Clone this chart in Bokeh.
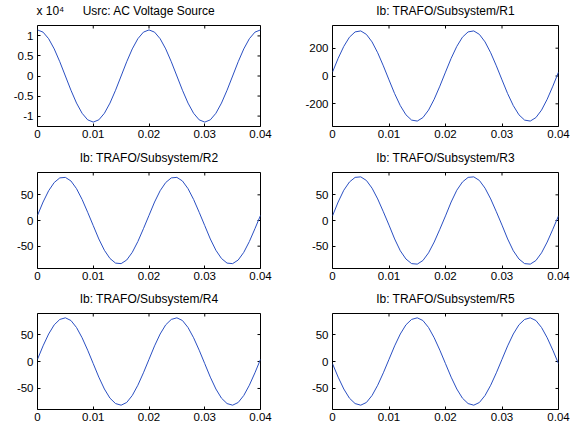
import math
from bokeh.plotting import figure
from bokeh.layouts import column, row
from bokeh.models import Range1d, LinearAxis, FixedTicker
from bokeh.embed import file_html
from bokeh.resources import INLINE

# ---------------- data ----------------
t = [0.000, 0.001, 0.002, 0.003, 0.004, 0.005, 0.006, 0.007, 0.008, 0.009,
     0.010, 0.011, 0.012, 0.013, 0.014, 0.015, 0.016, 0.017, 0.018, 0.019,
     0.020, 0.021, 0.022, 0.023, 0.024, 0.025, 0.026, 0.027, 0.028, 0.029,
     0.030, 0.031, 0.032, 0.033, 0.034, 0.035, 0.036, 0.037, 0.038, 0.039,
     0.040]

usrc = [11500, 10940, 9300, 6760, 3550, 0, -3550, -6760, -9300, -10940,
        -11500, -10940, -9300, -6760, -3550, 0, 3550, 6760, 9300, 10940,
        11500, 10940, 9300, 6760, 3550, 0, -3550, -6760, -9300, -10940,
        -11500, -10940, -9300, -6760, -3550, 0, 3550, 6760, 9300, 10940,
        11500]

ib_r1 = [28, 127, 213, 279, 317, 324, 299, 245, 167, 73,
         -28, -127, -213, -279, -317, -324, -299, -245, -167, -73,
         28, 127, 213, 279, 317, 324, 299, 245, 167, 73,
         -28, -127, -213, -279, -317, -324, -299, -245, -167, -73,
         28]

ib_r2 = [10, 36, 58, 74, 83, 84, 77, 62, 41, 16,
         -10, -36, -58, -74, -83, -84, -77, -62, -41, -16,
         10, 36, 58, 74, 83, 84, 77, 62, 41, 16,
         -10, -36, -58, -74, -83, -84, -77, -62, -41, -16,
         10]

ib_r3 = [9, 36, 59, 75, 84, 85, 78, 63, 42, 17,
         -9, -36, -59, -75, -84, -85, -78, -63, -42, -17,
         9, 36, 59, 75, 84, 85, 78, 63, 42, 17,
         -9, -36, -59, -75, -84, -85, -78, -63, -42, -17,
         9]

ib_r4 = [4, 29, 51, 68, 78, 81, 76, 63, 44, 21,
         -4, -29, -51, -68, -78, -81, -76, -63, -44, -21,
         4, 29, 51, 68, 78, 81, 76, 63, 44, 21,
         -4, -29, -51, -68, -78, -81, -76, -63, -44, -21,
         4]

ib_r5 = [-4, -29, -51, -68, -78, -81, -76, -63, -44, -21,
         4, 29, 51, 68, 78, 81, 76, 63, 44, 21,
         -4, -29, -51, -68, -78, -81, -76, -63, -44, -21,
         4, 29, 51, 68, 78, 81, 76, 63, 44, 21,
         -4]

titles = ["Usrc: AC Voltage Source",
          "Ib: TRAFO/Subsystem/R1",
          "Ib: TRAFO/Subsystem/R2",
          "Ib: TRAFO/Subsystem/R3",
          "Ib: TRAFO/Subsystem/R4",
          "Ib: TRAFO/Subsystem/R5"]

multiplier_text = "x 10\u2074"

x_ticks = [0, 0.01, 0.02, 0.03, 0.04]
x_tick_labels = ["0", "0.01", "0.02", "0.03", "0.04"]

usrc_ticks = [-10000, -5000, 0, 5000, 10000]
usrc_tick_labels = ["-1", "-0.5", "0", "0.5", "1"]
r1_ticks = [-200, 0, 200]
r1_tick_labels = ["-200", "0", "200"]
r_ticks = [-50, 0, 50]
r_tick_labels = ["-50", "0", "50"]

x_limits = (0, 0.04)
y_limits = [(-12600, 12600), (-363, 363), (-93.5, 93.5),
            (-93.5, 93.5), (-89, 89), (-89, 89)]

# ---------------- styling / layout ----------------
FONT = "Liberation Sans"
LINE_COLOR = "#2a4fc2"
TITLE_X = 0.02          # title anchor (centre of the x range)
MULT_X = 0.0023         # anchor of the "x 10^4" text


def make_panel(values, title, xlim, ylim, yticks, ylabels, width, height,
               left, right, top_b, bottom, extra_top=None):
    p = figure(width=width, height=height,
               x_range=Range1d(*xlim), y_range=Range1d(*ylim),
               output_backend="svg", toolbar_location=None, tools="",
               min_border_left=left, min_border_right=right,
               min_border_top=top_b, min_border_bottom=bottom)
    p.background_fill_color = "white"
    p.border_fill_color = "white"
    p.outline_line_color = "black"
    p.outline_line_width = 1
    p.xgrid.visible = False
    p.ygrid.visible = False

    # bottom / left axes (MATLAB style: inward ticks)
    for ax in (p.below[0], p.left[0]):
        ax.axis_line_color = None
        ax.major_tick_in = 3
        ax.major_tick_out = 0
        ax.minor_tick_in = 0
        ax.minor_tick_out = 0
        ax.major_tick_line_color = "black"
        ax.major_label_text_font = FONT
        ax.major_label_text_font_size = "11.5px"
        ax.major_label_text_color = "black"
    bx = p.below[0]
    bx.ticker = FixedTicker(ticks=x_ticks)
    bx.major_label_overrides = {k: v for k, v in zip(x_ticks, x_tick_labels)}
    bx.major_label_standoff = 3
    ly = p.left[0]
    ly.ticker = FixedTicker(ticks=yticks)
    ly.major_label_overrides = {k: v for k, v in zip(yticks, ylabels)}
    ly.major_label_standoff = 4

    # title row above the frame (texts only, no tick marks)
    top_ticks = [TITLE_X]
    top_labels = {TITLE_X: title}
    if extra_top is not None:
        top_ticks = [extra_top[0], TITLE_X]
        top_labels[extra_top[0]] = extra_top[1]
    top = LinearAxis(ticker=FixedTicker(ticks=top_ticks),
                     major_label_overrides=top_labels)
    top.axis_line_color = None
    top.major_tick_line_color = None
    top.minor_tick_line_color = None
    top.major_tick_in = 0
    top.major_tick_out = 0
    top.major_label_standoff = 8
    top.major_label_text_font = FONT
    top.major_label_text_font_size = "12px"
    top.major_label_text_color = "black"
    p.add_layout(top, "above")

    # inward ticks on the top and right edges of the box
    p.scatter(x=x_ticks, y=[ylim[1]] * len(x_ticks), marker="dash", size=6,
              angle=math.pi / 2, line_color="black", line_width=1)
    p.scatter(x=[xlim[1]] * len(yticks), y=yticks, marker="dash", size=6,
              line_color="black", line_width=1)

    p.line(t, values, line_color=LINE_COLOR, line_width=1)
    return p


LW, LL, LR = 274, 37, 14
RW, RL, RR = 297, 58, 13
# figure height, top border, bottom border for each row
rows_geom = [(147, 25, 21), (141, 25, 20), (138, 25, 17)]

series = [usrc, ib_r1, ib_r2, ib_r3, ib_r4, ib_r5]
tick_sets = [(usrc_ticks, usrc_tick_labels), (r1_ticks, r1_tick_labels),
             (r_ticks, r_tick_labels), (r_ticks, r_tick_labels),
             (r_ticks, r_tick_labels), (r_ticks, r_tick_labels)]

panels = []
for i in range(6):
    h, tb, bt = rows_geom[i // 2]
    if i % 2 == 0:
        w, l, r = LW, LL, LR
    else:
        w, l, r = RW, RL, RR
    extra = (MULT_X, multiplier_text) if i == 0 else None
    panels.append(make_panel(series[i], titles[i], x_limits, y_limits[i],
                             tick_sets[i][0], tick_sets[i][1],
                             w, h, l, r, tb, bt, extra_top=extra))

layout = column(row(panels[0], panels[1]),
                row(panels[2], panels[3]),
                row(panels[4], panels[5]))

open("out.html", "w").write(file_html(layout, INLINE))
